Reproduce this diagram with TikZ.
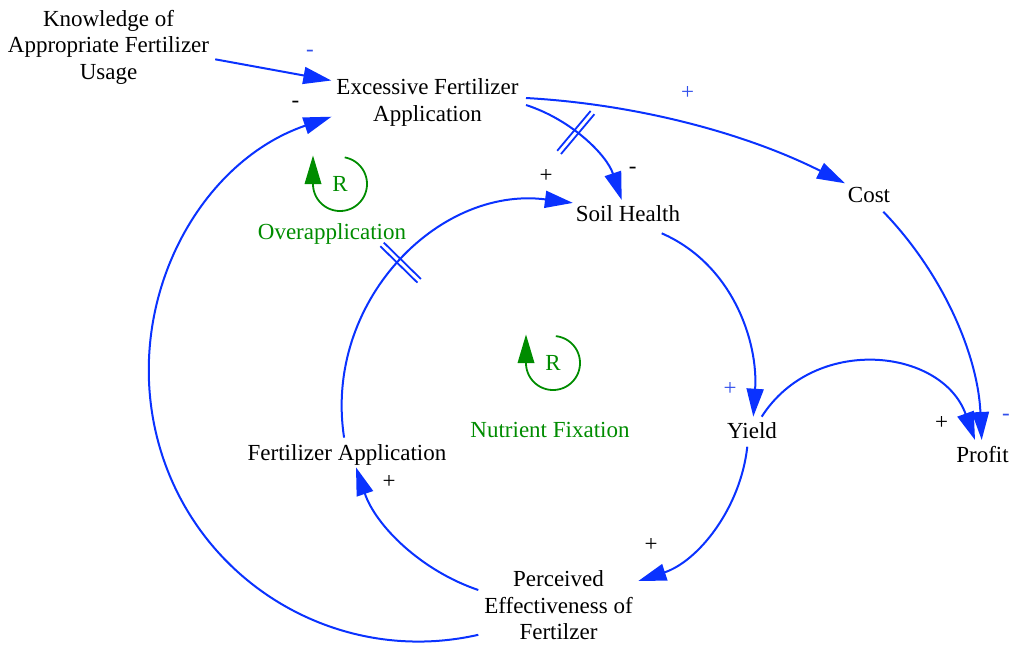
\documentclass[tikz,border=0pt]{standalone}
\usepackage{fontspec}
\setmainfont{Liberation Serif}
\usetikzlibrary{arrows.meta,calc}
\definecolor{linkblue}{RGB}{10,50,255}
\definecolor{signblue}{RGB}{50,80,235}
\definecolor{loopgreen}{RGB}{0,140,0}
\begin{document}
\begin{tikzpicture}[x=1pt,y=-1pt,
  var/.style={font=\fontsize{23}{26.5}\selectfont, align=center, inner sep=0pt},
  var1/.style={var, text height=15.2pt, text depth=0pt},
  link/.style={draw=linkblue, line width=2pt, -{Triangle[length=28pt,width=17pt]}},
  delaymark/.style={draw=linkblue, line width=1.8pt},
  sign/.style={font=\fontsize{23}{26.5}\selectfont, inner sep=0pt},
  loopsym/.style={draw=loopgreen, line width=1.8pt},
  looplabel/.style={font=\fontsize{23}{26.5}\selectfont, text=loopgreen, inner sep=0pt, text height=15.2pt, text depth=0pt}
]
\useasboundingbox (0,0) rectangle (1013,646);

% variables
\node[var] (know) at (108.5,47.3) {Knowledge of\\Appropriate Fertilizer\\Usage};
\node[var] (exc) at (427.5,102.5) {Excessive Fertilizer\\Application};
\node[var1] (soil) at (628,214) {Soil Health};
\node[var1] (cost) at (869,194.7) {Cost};
\node[var1] (yield) at (752,431) {Yield};
\node[var1] (profit) at (982.5,454.5) {Profit};
\node[var1] (fa) at (347,452.5) {Fertilizer Application};
\node[var] (perc) at (558.5,605.5) {Perceived\\Effectiveness of\\Fertilzer};

% links
\draw[link] ($(know)+(106.7,12)$) -- ($(exc)+(-96.2,-22)$);
\draw[link] ($(exc)+(98.5,-4.5)$) .. controls (636.9,104.2) and (745.7,133.3) .. ($(cost)+(-24,-11.4)$);
\draw[link] ($(exc)+(98.5,2.5)$) .. controls (571.3,119.6) and (606.7,154.8) .. ($(soil)+(-6.3,-14)$);
\draw[link] ($(cost)+(14.3,17)$) .. controls (942.8,273.3) and (977.8,354.5) .. ($(profit)+(-0.8,-14.5)$);
\draw[link] ($(soil)+(33.7,19.3)$) .. controls (732.5,264.2) and (758.3,341.5) .. ($(yield)+(1.3,-14.3)$);
\draw[link] ($(yield)+(9.7,-14.3)$) .. controls (814.5,334.2) and (941.8,348.1) .. ($(profit)+(-7.5,-14.5)$);
\draw[link] ($(yield)+(-4.7,15.7)$) .. controls (740.4,508.9) and (697.8,561.4) .. ($(perc)+(79.8,-24.5)$);
\draw[link] ($(perc)+(-80.2,-15.5)$) .. controls (420.9,570.6) and (375.7,525.6) .. ($(fa)+(9,14.8)$);
\draw[link] ($(fa)+(-2.9,-14.9)$) .. controls (323.4,302.8) and (437.6,185.6) .. ($(soil)+(-55.1,-11.1)$);
\draw[link] ($(perc)+(-80.2,29.3)$) .. controls (338.5,666.6) and (198.3,583.4) .. (159.2,445.4)
   .. controls (120.1,307.4) and (195.8,163.0) .. ($(exc)+(-96,14.2)$);

% delay marks
\draw[delaymark] (557.2,150.8) -- (590.6,111.0);
\draw[delaymark] (561.0,154.0) -- (594.4,114.2);
\draw[delaymark] (380.3,246.2) -- (417.4,282.6);
\draw[delaymark] (383.8,242.6) -- (420.9,279.0);

% polarity signs
\node[sign,text=signblue] (s1) at (310,52.9) {-};
\node[sign] (s2) at (295.5,103.9) {-};
\node[sign,text=signblue] (s3) at (687.7,93.3) {+};
\node[sign] (s4) at (632.7,170.5) {-};
\node[sign] (s5) at (546,176) {+};
\node[sign,text=signblue] (s6) at (730,389.3) {+};
\node[sign] (s7) at (941.7,423.3) {+};
\node[sign,text=signblue] (s8) at (1006,417.2) {-};
\node[sign] (s9) at (389,481.7) {+};
\node[sign] (s10) at (651,545) {+};

% loop symbols
\draw[loopsym] plot[domain=280:540, samples=90] ({340+27*cos(\x)},{184+27*sin(\x)});
\fill[loopgreen] (304.5,184) -- (321.5,184) -- (313,155.5) -- cycle;
\node[looplabel] (r1) at (340,184) {R};
\node[looplabel] (l1) at (332,232) {Overapplication};

\draw[loopsym] plot[domain=276:540, samples=90] ({553+27*cos(\x)},{363+27*sin(\x)});
\fill[loopgreen] (517.5,363) -- (534.5,363) -- (526,334.5) -- cycle;
\node[looplabel] (r2) at (553,363) {R};
\node[looplabel] (l2) at (550,429.5) {Nutrient Fixation};
\end{tikzpicture}
\end{document}
